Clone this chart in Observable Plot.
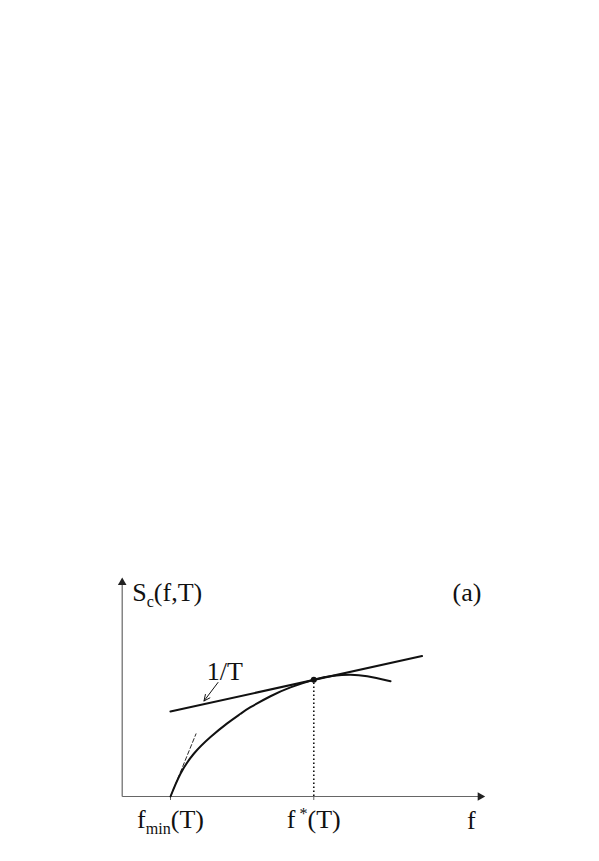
<!DOCTYPE html>
<html><head><meta charset="utf-8">
<script src="https://cdn.jsdelivr.net/npm/d3@7"></script>
<script src="https://cdn.jsdelivr.net/npm/@observablehq/plot@0.6"></script>
<style>html,body{margin:0;padding:0;background:#fff;} svg{display:block;}</style>
</head><body><div id="chart"></div>
<script>
// Entropy curve S_c(f,T)
const curveF = [1.342, 1.619, 1.989, 2.453, 2.917, 3.286, 3.564, 4.119, 4.675, 5.322, 5.878, 6.342, 6.806, 7.453];
const curveS = [0, 0.632, 1.187, 1.651, 2.031, 2.297, 2.48, 2.785, 3.03, 3.243, 3.354, 3.382, 3.34, 3.204];
// Tangent of slope 1/T
const tangentF = [1.34, 8.33];
const tangentS = [2.36, 3.90];
// Initial slope at f_min (dashed)
const initF = [1.342, 2.05];
const initS = [0, 1.74];
// Special points
const fMin = 1.342, fStar = 5.322, sStar = 3.243;
const tickValues = [fMin, fStar];
const tickLabels = ["f_{min}(T)", "f^{ *}(T)"];
// Annotations
const noteText = ["S_{c}(f,T)", "(a)", "1/T", "f"];
const noteF = [0.278, 9.98, 2.85, 9.70];
const noteS = [5.44, 5.44, 3.25, -0.89];
const noteAnchor = ["start", "end", "middle", "middle"];
// arrow pointing at tangent
const pointerF = [2.661, 2.272];
const pointerS = [3.167, 2.653];
// axes extents
const xMax = 10, yMax = 6;

const curve = curveF.map((f, i) => ({f, s: curveS[i]}));
const tangent = tangentF.map((f, i) => ({f, s: tangentS[i]}));
const initLine = initF.map((f, i) => ({f, s: initS[i]}));
const notes = noteText.map((t, i) => ({t, f: noteF[i], s: noteS[i], a: noteAnchor[i]}));

const textMarks = ["start", "middle", "end"].map(a =>
  Plot.text(notes.filter(d => d.a === a), {x: "f", y: "s", text: "t", textAnchor: a, lineAnchor: "bottom", fill: "#111", fontSize: 26})
);

const plot = Plot.plot({
  width: 599, height: 861,
  marginLeft: 121.7, marginRight: 117.3, marginTop: 580, marginBottom: 65,
  x: {domain: [0, xMax], axis: null},
  y: {domain: [0, yMax], axis: null},
  style: {fontFamily: "'Liberation Serif', 'Times New Roman', serif", fontSize: "26px", background: "#fff", color: "#111"},
  marks: [
    // axes
    Plot.link([{x1: 0, y1: 0, x2: xMax, y2: 0}], {x1: "x1", y1: "y1", x2: "x2", y2: "y2", stroke: "#666", strokeWidth: 1.2}),
    Plot.link([{x1: 0, y1: 0, x2: 0, y2: yMax}], {x1: "x1", y1: "y1", x2: "x2", y2: "y2", stroke: "#666", strokeWidth: 1.2}),
    Plot.dot([{x: xMax, y: 0}], {x: "x", y: "y", symbol: "triangle", r: 3.2, fill: "#222", stroke: null, rotate: 90, dx: -2}),
    Plot.dot([{x: 0, y: yMax}], {x: "x", y: "y", symbol: "triangle", r: 3.2, fill: "#222", stroke: null, dy: 2}),
    Plot.axisX({ticks: tickValues, tickFormat: d => tickLabels[tickValues.indexOf(d)], tickSize: 4, tickPadding: 9, stroke: "#666", fill: "#111", fontSize: 26}),
    // dotted vertical at f*
    Plot.ruleX([fStar], {y1: 0, y2: sStar, stroke: "#111", strokeWidth: 1.6, strokeDasharray: "1.6,2.4"}),
    // dashed initial slope
    Plot.line(initLine, {x: "f", y: "s", stroke: "#111", strokeWidth: 0.9, strokeDasharray: "4,2.5"}),
    // tangent
    Plot.line(tangent, {x: "f", y: "s", stroke: "#111", strokeWidth: 2}),
    // curve
    Plot.line(curve, {x: "f", y: "s", stroke: "#111", strokeWidth: 2, curve: "natural"}),
    Plot.dot([{f: fStar, s: sStar}], {x: "f", y: "s", r: 3, fill: "#111", stroke: null}),
    // pointer arrow
    Plot.arrow([{x1: pointerF[0], y1: pointerS[0], x2: pointerF[1], y2: pointerS[1]}], {x1: "x1", y1: "y1", x2: "x2", y2: "y2", stroke: "#111", strokeWidth: 1, headLength: 10, headAngle: 50}),
    // annotations
    ...textMarks
  ]
});

document.getElementById("chart").appendChild(plot);

// Rich-text post processing: _{...} subscript, ^{...} superscript
function richify(el) {
  const raw = el.textContent;
  if (!/[_^]\{/.test(raw)) return;
  const parts = [];
  const re = /([_^])\{([^}]*)\}/g;
  let last = 0, m;
  while ((m = re.exec(raw))) {
    if (m.index > last) parts.push({t: raw.slice(last, m.index), k: ""});
    parts.push({t: m[2], k: m[1]});
    last = re.lastIndex;
  }
  if (last < raw.length) parts.push({t: raw.slice(last), k: ""});
  while (el.firstChild) el.removeChild(el.firstChild);
  const ns = "http://www.w3.org/2000/svg";
  let shift = 0;
  for (const p of parts) {
    const ts = document.createElementNS(ns, "tspan");
    ts.textContent = p.t;
    const target = p.k === "_" ? 6 : p.k === "^" ? -9 : 0;
    const dy = target - shift;
    if (dy) ts.setAttribute("dy", dy);
    shift = target;
    if (p.k) ts.setAttribute("font-size", "62%");
    ts.style.whiteSpace = "pre";
    el.appendChild(ts);
  }
}
plot.querySelectorAll("text").forEach(richify);
</script>
</body></html>
